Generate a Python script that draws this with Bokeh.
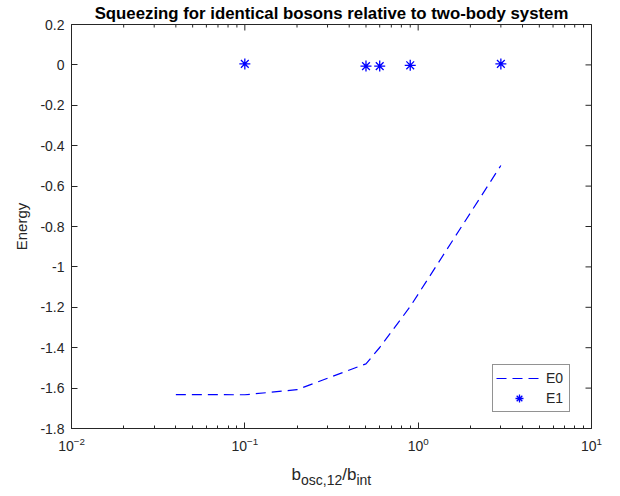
import math
from bokeh.plotting import figure
from bokeh.layouts import column
from bokeh.models import FixedTicker, Label, Legend, LegendItem, Title
from bokeh.embed import file_html
from bokeh.resources import INLINE

# ---- data ----
x_e0 = [0.04, 0.1, 0.2, 0.5, 0.6, 0.9, 3.0]
e0 = [-1.632, -1.633, -1.608, -1.480, -1.399, -1.196, -0.498]
x_e1 = [0.1, 0.5, 0.6, 0.9, 3.0]
e1 = [0.005, -0.006, -0.006, -0.002, 0.005]

x_ticks = [0.01, 0.1, 1, 10]
y_ticks = [-1.8, -1.6, -1.4, -1.2, -1.0, -0.8, -0.6, -0.4, -0.2, 0.0, 0.2]
y_tick_labels = ["-1.8", "-1.6", "-1.4", "-1.2", "-1", "-0.8", "-0.6", "-0.4", "-0.2", "0", "0.2"]

title_text = "Squeezing for identical bosons relative to two-body system"
y_label = "Energy"
x_label_parts = ["b", "osc,12", "/b", "int"]

FONT = "Liberation Sans"
AX = "#262626"
BLUE = "#0000ff"

X_MIN, X_MAX = 0.01, 10
Y_MIN, Y_MAX = -1.8, 0.2
minor_x = [m * 10.0 ** k for k in (-2, -1, 0) for m in range(2, 10)]

# ---- main plot ----
p = figure(width=620, height=458, x_axis_type="log",
           x_range=(X_MIN, X_MAX), y_range=(Y_MIN, Y_MAX),
           output_backend="svg", toolbar_location=None,
           min_border_left=71, min_border_right=29,
           min_border_top=24, min_border_bottom=30)
p.grid.visible = False
p.outline_line_color = AX
p.background_fill_color = "white"
p.border_fill_color = "white"

p.title = Title(text=title_text, align="center", text_font=FONT,
                text_font_size="16.8px", text_font_style="bold",
                text_color="black", standoff=3)

r0 = p.line(x_e0, e0, line_color=BLUE, line_width=1.2, line_dash="10 6")
r1 = p.scatter(x_e1, e1, marker="asterisk", size=11, line_color=BLUE, line_width=1.3)

# inward ticks on top and right edges (half of each dash is clipped by the frame)
p.scatter(x_ticks, [Y_MAX] * len(x_ticks), marker="dash", angle=math.pi / 2,
          size=12, line_color=AX, line_width=1)
p.scatter(minor_x, [Y_MAX] * len(minor_x), marker="dash", angle=math.pi / 2,
          size=6, line_color=AX, line_width=1)
p.scatter([X_MAX] * len(y_ticks), y_ticks, marker="dash",
          size=12, line_color=AX, line_width=1)

# bottom x axis
xa = p.xaxis[0]
xa.ticker = FixedTicker(ticks=x_ticks, minor_ticks=minor_x)
xa.major_tick_in = 6
xa.major_tick_out = 0
xa.minor_tick_in = 3
xa.minor_tick_out = 0
xa.axis_line_color = AX
xa.major_tick_line_color = AX
xa.minor_tick_line_color = AX
xa.major_label_text_font = FONT
xa.major_label_text_font_size = "14px"
xa.major_label_text_color = AX
xa.major_label_standoff = 8

# left y axis
ya = p.yaxis[0]
ya.ticker = FixedTicker(ticks=y_ticks)
ya.major_label_overrides = {t: s for t, s in zip(y_ticks, y_tick_labels)}
ya.major_tick_in = 6
ya.major_tick_out = 0
ya.minor_tick_line_color = None
ya.axis_line_color = AX
ya.major_tick_line_color = AX
ya.major_label_text_font = FONT
ya.major_label_text_font_size = "14px"
ya.major_label_text_color = AX
ya.major_label_standoff = 7
ya.axis_label = y_label
ya.axis_label_text_font = FONT
ya.axis_label_text_font_size = "15px"
ya.axis_label_text_font_style = "normal"
ya.axis_label_text_color = AX
ya.axis_label_standoff = 7

legend = Legend(items=[LegendItem(label="E0", renderers=[r0]),
                       LegendItem(label="E1", renderers=[r1])],
                location=(421, 16), orientation="vertical",
                glyph_width=46, glyph_height=20, label_height=20,
                label_standoff=4, padding=3, spacing=0, margin=0,
                label_text_font=FONT, label_text_font_size="14px", label_text_color=AX,
                border_line_color=AX, border_line_width=1,
                background_fill_color="white", background_fill_alpha=1)
p.add_layout(legend, "center")

# ---- x-axis label strip (with subscripts); its frame aligns with the main frame ----
px = figure(width=620, height=38, x_range=(0, 520), y_range=(0, 38),
            output_backend="svg", toolbar_location=None,
            min_border_left=71, min_border_right=29, min_border_top=0, min_border_bottom=0,
            x_axis_location=None, y_axis_location=None)
px.grid.visible = False
px.outline_line_color = None
px.border_fill_color = "white"
px.background_fill_color = "white"
xl_layout = [(220.0, 22, "17px"), (229.5, 17, "14px"), (270.7, 22, "17px"), (284.9, 17, "14px")]
for txt, (xx, yy, fs) in zip(x_label_parts, xl_layout):
    px.add_layout(Label(x=xx, y=yy, x_units="screen", y_units="screen", text=txt,
                        text_font=FONT, text_font_size=fs, text_align="left",
                        text_baseline="alphabetic", text_color=AX))

layout = column(p, px, spacing=0)
open("out.html", "w").write(file_html(layout, INLINE))
